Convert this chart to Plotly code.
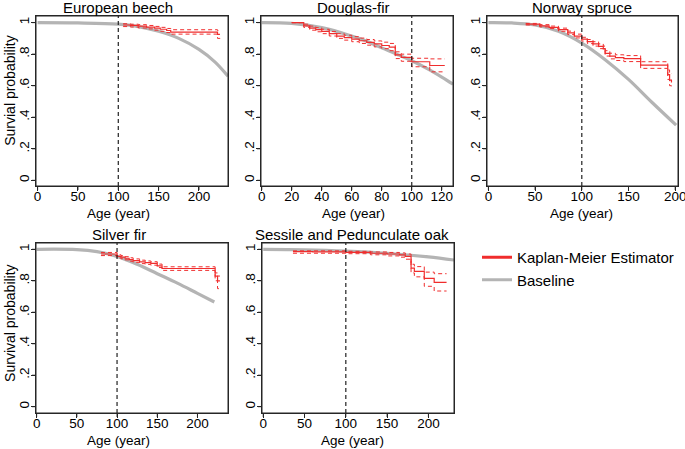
import plotly.graph_objects as go

W, H = 685, 449

# ---------------- data ----------------
titles = ["European beech", "Douglas-fir", "Norway spruce", "Silver fir", "Sessile and Pedunculate oak"]
ylabels = ["Survial probability", "", "", "Survival probability", ""]
xlabel = "Age (year)"

# Baseline curves (age, survival)
base_age = [
    [0, 50, 100, 125, 150, 175, 200, 220, 236],
    [0, 20, 40, 60, 70, 80, 90, 100, 110, 120, 127.5],
    [0, 25, 50, 75, 100, 125, 150, 175, 201],
    [0, 50, 75, 100, 125, 150, 175, 200, 221],
    [0, 50, 100, 150, 200, 231],
]
base_val = [
    [1.0, 0.998, 0.99, 0.975, 0.945, 0.90, 0.83, 0.75, 0.66],
    [1.0, 0.995, 0.968, 0.915, 0.882, 0.84, 0.80, 0.758, 0.71, 0.655, 0.61],
    [1.0, 0.998, 0.985, 0.945, 0.87, 0.765, 0.64, 0.495, 0.35],
    [1.0, 0.998, 0.985, 0.955, 0.905, 0.845, 0.785, 0.72, 0.665],
    [1.0, 0.997, 0.989, 0.975, 0.952, 0.932],
]

# Kaplan-Meier estimates with confidence bounds
km_age = [
    [106, 115, 125, 135, 145, 152, 160, 165, 223, 226],
    [20, 28, 32, 36, 40, 45, 50, 55, 60, 65, 70, 75, 80, 85, 89, 93, 100, 112, 122],
    [40, 55, 65, 75, 85, 92, 100, 106, 112, 118, 123, 125, 130, 136, 145, 163, 192, 194, 196],
    [80, 100, 105, 110, 115, 120, 128, 135, 142, 150, 156, 222, 225, 228],
    [36, 60, 100, 130, 150, 165, 172, 179, 183, 195, 207, 222],
]
km_s = [
    [0.985, 0.982, 0.978, 0.972, 0.965, 0.958, 0.950, 0.940, 0.925, 0.925],
    [1.0, 0.98, 0.965, 0.955, 0.945, 0.93, 0.915, 0.905, 0.895, 0.885, 0.875, 0.865, 0.855, 0.845, 0.795, 0.78, 0.752, 0.728, 0.728],
    [0.99, 0.98, 0.97, 0.955, 0.935, 0.915, 0.895, 0.88, 0.865, 0.85, 0.835, 0.805, 0.788, 0.778, 0.772, 0.731, 0.67, 0.635, 0.62],
    [0.97, 0.955, 0.95, 0.943, 0.935, 0.928, 0.92, 0.915, 0.91, 0.895, 0.878, 0.83, 0.80, 0.80],
    [0.985, 0.983, 0.98, 0.975, 0.97, 0.965, 0.955, 0.88, 0.86, 0.815, 0.79, 0.79],
]
km_hi = [
    [0.993, 0.99, 0.987, 0.982, 0.976, 0.970, 0.963, 0.955, 0.95, 0.95],
    [1.0, 0.99, 0.978, 0.968, 0.958, 0.944, 0.93, 0.92, 0.911, 0.902, 0.893, 0.884, 0.876, 0.868, 0.815, 0.80, 0.774, 0.77, 0.77],
    [0.995, 0.987, 0.978, 0.965, 0.946, 0.927, 0.907, 0.893, 0.879, 0.865, 0.851, 0.822, 0.806, 0.796, 0.791, 0.752, 0.70, 0.68, 0.675],
    [0.98, 0.965, 0.96, 0.953, 0.946, 0.939, 0.931, 0.926, 0.921, 0.906, 0.889, 0.85, 0.83, 0.83],
    [0.99, 0.99, 0.987, 0.983, 0.98, 0.977, 0.97, 0.905, 0.89, 0.855, 0.845, 0.845],
]
km_lo = [
    [0.975, 0.972, 0.966, 0.960, 0.952, 0.945, 0.937, 0.927, 0.90, 0.89],
    [1.0, 0.97, 0.952, 0.942, 0.93, 0.915, 0.90, 0.889, 0.879, 0.868, 0.857, 0.846, 0.835, 0.822, 0.772, 0.755, 0.72, 0.688, 0.688],
    [0.985, 0.973, 0.962, 0.945, 0.924, 0.903, 0.883, 0.867, 0.851, 0.835, 0.819, 0.788, 0.77, 0.76, 0.753, 0.71, 0.64, 0.60, 0.585],
    [0.96, 0.945, 0.94, 0.933, 0.924, 0.917, 0.909, 0.904, 0.899, 0.884, 0.866, 0.80, 0.75, 0.75],
    [0.975, 0.975, 0.972, 0.965, 0.958, 0.95, 0.937, 0.85, 0.825, 0.765, 0.735, 0.735],
]

x_ticks = [
    [0, 50, 100, 150, 200],
    [0, 20, 40, 60, 80, 100, 120],
    [0, 50, 100, 150, 200],
    [0, 50, 100, 150, 200],
    [0, 50, 100, 150, 200],
]
y_tickvals = [0, 0.2, 0.4, 0.6, 0.8, 1.0]
y_ticktext = ["0", ".2", ".4", ".6", ".8", "1"]
ref_age = 100

# ---------------- layout geometry (pixels) ----------------
frames = [  # left, right, top, bottom
    (36, 228, 16, 186),
    (261, 453, 16, 186),
    (487, 678, 16, 186),
    (36, 228, 243, 413),
    (262, 454, 243, 413),
]
xranges = [[-2, 236], [-0.5, 127.5], [-1.5, 203], [-0.8, 238], [-1.5, 231]]
yr_top = [-0.036, 1.042]
yr_bot = [-0.040, 1.040]
title_cx = [100, 61, 100, 102, 108]     # centre of panel / axis titles (in age units)
ytitle_cy = [0.56, 0, 0, 0.53, 0]       # centre of y titles (domain fraction)
TICKLEN = 4

RED = "rgb(240,45,45)"
GRAY = "rgb(180,180,180)"
AXC = "#262626"
FONT = "Liberation Sans, Arial, Helvetica, sans-serif"

fig = go.Figure()
layout = dict(
    width=W, height=H, margin=dict(l=0, r=0, t=0, b=0, autoexpand=False),
    paper_bgcolor="white", plot_bgcolor="white",
    font=dict(family=FONT, size=13, color="black"),
    showlegend=True,
)
annotations = []
shapes = []

for i in range(5):
    n = "" if i == 0 else str(i + 1)
    xa, ya = "x" + n, "y" + n
    l, r, t, b = frames[i]
    pw, ph = r - l, b - t
    layout["xaxis" + n] = dict(
        domain=[l / W, r / W], range=xranges[i], anchor=ya, automargin=False,
        showline=True, linecolor=AXC, linewidth=1, mirror=True,
        ticks="outside", ticklen=TICKLEN, tickcolor=AXC, tickwidth=1, tickvals=x_ticks[i],
        showgrid=False, zeroline=False, tickfont=dict(size=13.5),
        ticklabelstandoff=-6, ticklabeloverflow="allow",
    )
    layout["yaxis" + n] = dict(
        domain=[(H - b) / H, (H - t) / H], automargin=False,
        range=yr_top if i < 3 else yr_bot, anchor=xa,
        showline=True, linecolor=AXC, linewidth=1, mirror=True,
        ticks="outside", ticklen=TICKLEN, tickcolor=AXC, tickwidth=1,
        tickvals=y_tickvals, ticktext=y_ticktext, tickangle=-90,
        showgrid=False, zeroline=False, tickfont=dict(size=13.5),
        ticklabelstandoff=-3, ticklabeloverflow="allow",
    )
    # frame box
    shapes.append(dict(type="rect", xref=xa + " domain", yref=ya + " domain",
                       x0=0, x1=1, y0=0, y1=1, layer="above",
                       line=dict(color=AXC, width=1)))
    # tick marks
    for v in x_ticks[i]:
        shapes.append(dict(type="line", xref=xa, yref=ya + " domain", x0=v, x1=v,
                           y0=0, y1=-TICKLEN / ph, line=dict(color=AXC, width=1)))
    for v in y_tickvals:
        shapes.append(dict(type="line", xref=xa + " domain", yref=ya, y0=v, y1=v,
                           x0=0, x1=-TICKLEN / pw, line=dict(color=AXC, width=1)))
    # panel title
    annotations.append(dict(
        text=titles[i], x=title_cx[i], y=1, xref=xa, yref=ya + " domain",
        xanchor="center", yanchor="middle", yshift=8.5,
        showarrow=False, font=dict(size=15),
    ))
    # x axis title
    annotations.append(dict(
        text=xlabel, x=title_cx[i], y=0, xref=xa, yref=ya + " domain",
        xanchor="center", yanchor="middle", yshift=-27,
        showarrow=False, font=dict(size=13.5),
    ))
    # y axis title
    if ylabels[i]:
        annotations.append(dict(
            text=ylabels[i], x=0, y=ytitle_cy[i], xref=xa + " domain", yref=ya + " domain",
            xanchor="center", yanchor="middle", xshift=-26, textangle=-90,
            showarrow=False, font=dict(size=14),
        ))
    # reference line at age 100
    shapes.append(dict(
        type="line", xref=xa, yref=ya + " domain", x0=ref_age, x1=ref_age, y0=0, y1=1,
        line=dict(color="#222", width=1.2, dash="4px,3px"),
    ))
    # baseline
    fig.add_trace(go.Scatter(
        x=base_age[i], y=base_val[i], mode="lines", xaxis=xa, yaxis=ya,
        line=dict(color=GRAY, width=3.2, shape="spline", smoothing=1.0),
        showlegend=False, hoverinfo="skip",
    ))
    # KM confidence bounds
    for bound in (km_hi[i], km_lo[i]):
        fig.add_trace(go.Scatter(
            x=km_age[i], y=bound, mode="lines", xaxis=xa, yaxis=ya,
            line=dict(color=RED, width=1, shape="hv", dash="4px,3px"),
            showlegend=False, hoverinfo="skip",
        ))
    # KM estimate
    fig.add_trace(go.Scatter(
        x=km_age[i], y=km_s[i], mode="lines", xaxis=xa, yaxis=ya,
        line=dict(color=RED, width=1.2, shape="hv"),
        showlegend=False,
    ))

# legend-only entries
fig.add_trace(go.Scatter(x=[None], y=[None], mode="lines", name="Kaplan-Meier Estimator",
                         line=dict(color=RED, width=3)))
fig.add_trace(go.Scatter(x=[None], y=[None], mode="lines", name="Baseline",
                         line=dict(color=GRAY, width=3)))

layout["legend"] = dict(
    x=477 / W, y=(H - 241) / H, xanchor="left", yanchor="top",
    bgcolor="rgba(0,0,0,0)", font=dict(size=15), tracegroupgap=0,
    itemwidth=30,
)
layout["annotations"] = annotations
layout["shapes"] = shapes
fig.update_layout(**layout)

fig.write_html("out.html", config={"displayModeBar": False},
               post_script="document.body.style.margin='0px';")
